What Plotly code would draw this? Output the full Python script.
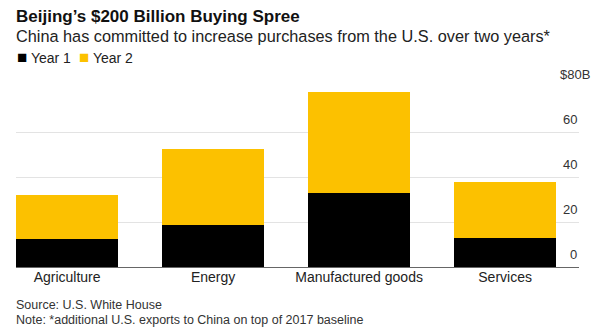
import plotly.graph_objects as go

categories = ["Agriculture", "Energy", "Manufactured goods", "Services"]
year1 = [12.5, 18.5, 32.9, 12.8]
year2 = [19.5, 33.9, 44.8, 25.1]
y_ticks = [0, 20, 40, 60, 80]
y_tick_labels = ["0", "20", "40", "60", "$80B"]

BLACK = "#000000"
YELLOW = "#FCC100"
FONT = "Liberation Sans, Arial, sans-serif"

W = 600
H = 333
top_m = 87
bot_m = 66
plot_h = H - top_m - bot_m

fig = go.Figure()
fig.add_trace(go.Bar(x=categories, y=year1, name="Year 1", marker_color=BLACK,
                     marker_line_width=0, showlegend=False))
fig.add_trace(go.Bar(x=categories, y=year2, name="Year 2", marker_color=YELLOW,
                     marker_line_width=0, showlegend=False))


def ypix(py):
    # convert page y pixel (from top) to paper coordinate
    return (H - bot_m - py) / plot_h


def xpix(px):
    return (px - 16) / (W - 16 - 21)


annotations = [
    dict(text="<b>Beijing’s $200 Billion Buying Spree</b>", xref="paper", yref="paper",
         x=xpix(14), y=ypix(16), xanchor="left", yanchor="middle",
         showarrow=False, font=dict(size=17, color="#111", family=FONT)),
    dict(text="China has committed to increase purchases from the U.S. over two years*",
         xref="paper", yref="paper", x=xpix(14), y=ypix(36), xanchor="left", yanchor="middle",
         showarrow=False, font=dict(size=16.3, color="#222", family=FONT)),
    dict(text="Source: U.S. White House", xref="paper", yref="paper",
         x=xpix(14), y=ypix(305), xanchor="left", yanchor="middle",
         showarrow=False, font=dict(size=12.5, color="#333", family=FONT)),
    dict(text="Note: *additional U.S. exports to China on top of 2017 baseline", xref="paper",
         yref="paper", x=xpix(14), y=ypix(320), xanchor="left", yanchor="middle",
         showarrow=False, font=dict(size=12.5, color="#333", family=FONT)),
]

# legend keys (built from the trace names / colours)
leg_x = [15, 77]
for (name, col), lx in zip([("Year 1", BLACK), ("Year 2", YELLOW)], leg_x):
    annotations.append(dict(text=f"<span style='color:{col};font-size:17px'>■</span> {name}",
                            xref="paper", yref="paper", x=xpix(lx), y=ypix(58),
                            xanchor="left", yanchor="middle", showarrow=False,
                            font=dict(size=14, color="#222", family=FONT)))

for v, lab in zip(y_ticks, y_tick_labels):
    xr = xpix(592) if lab.startswith("$") else 1
    annotations.append(dict(text=lab, xref="paper", yref="y", x=xr, y=v,
                            xanchor="right", yanchor="middle", yshift=13,
                            showarrow=False, font=dict(size=13, color="#333", family=FONT)))

fig.update_layout(
    width=W, height=H,
    margin=dict(l=16, r=21, t=top_m, b=bot_m, autoexpand=False),
    barmode="stack",
    bargap=0.3,
    plot_bgcolor="white",
    paper_bgcolor="white",
    font=dict(family=FONT, color="#222"),
    showlegend=False,
    annotations=annotations,
    xaxis=dict(range=[-0.35, 3.506], showgrid=False, showline=False, ticks="",
               tickfont=dict(size=14, color="#222", family=FONT), zeroline=False),
    yaxis=dict(range=[0, 80], tickvals=y_ticks, showticklabels=False, showgrid=True,
               gridcolor="#e3e3e3", gridwidth=1, zeroline=True, zerolinecolor="#666",
               zerolinewidth=1, showline=False, ticks=""),
)

fig.write_html("out.html")
